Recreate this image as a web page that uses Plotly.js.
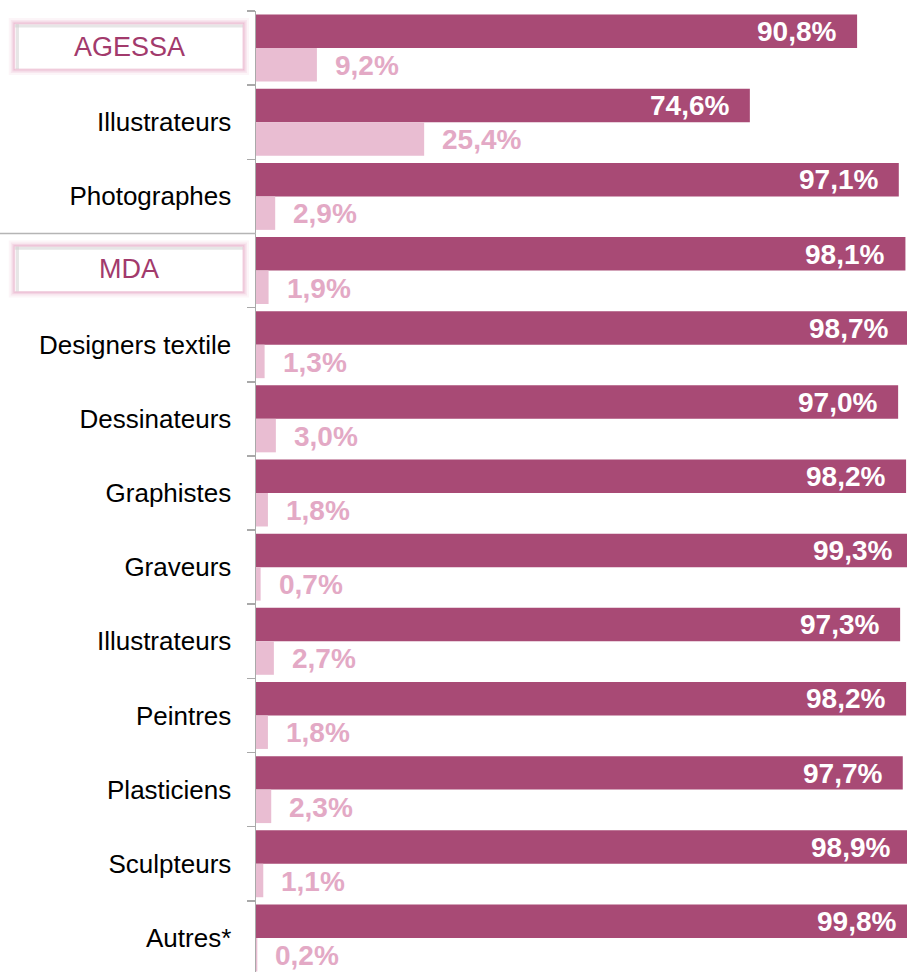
<!DOCTYPE html>
<html>
<head>
<meta charset="utf-8">
<script src="https://cdn.plot.ly/plotly-3.0.1.min.js"></script>
<style>
html,body{margin:0;padding:0;overflow:hidden;background:#fff;}
#chart{width:918px;height:975px;}
</style>
</head>
<body>
<div id="chart"></div>
<script>
// ---- data ----
const categories = ["AGESSA","Illustrateurs","Photographes","MDA","Designers textile","Dessinateurs","Graphistes","Graveurs","Illustrateurs","Peintres","Plasticiens","Sculpteurs","Autres*"];
const darkValues = [90.8,74.6,97.1,98.1,98.7,97.0,98.2,99.3,97.3,98.2,97.7,98.9,99.8];
const lightValues = [9.2,25.4,2.9,1.9,1.3,3.0,1.8,0.7,2.7,1.8,2.3,1.1,0.2];
const headerRows = ["AGESSA","MDA"];
const separatorAfter = "Photographes";

// ---- styling ----
const darkColor = "#a84a75";
const lightColor = "#e9bdd2";
const lightText = "#e3a9c5";
const headerText = "#a23a6c";
const axisGray = "#a9a9a9";
const FONT = "'Liberation Sans', Arial, sans-serif";

const idx = categories.map((c,i)=>i);
const fmt = v => v.toFixed(1).replace('.', ',') + '%';

const traces = [
  {type:'bar', orientation:'h', x: darkValues, y: idx, marker:{color:darkColor}, hoverinfo:'skip', name:'a'},
  {type:'bar', orientation:'h', x: lightValues, y: idx, marker:{color:lightColor}, hoverinfo:'skip', name:'b'}
];

const half = 0.2225;
const annotations = [];
categories.forEach((c,i)=>{
  annotations.push({x: darkValues[i], y: i - half, xref:'x', yref:'y', text: fmt(darkValues[i]),
    showarrow:false, xanchor:'right', xshift:-19, yshift:0, font:{family:FONT, size:28, color:'#ffffff', weight:'bold'}});
  annotations.push({x: lightValues[i], y: i + half, xref:'x', yref:'y', text: fmt(lightValues[i]),
    showarrow:false, xanchor:'left', xshift:16, yshift:-1, font:{family:FONT, size:28, color:lightText, weight:'bold'}});
});

// header boxes
const L = 256, W = 661.5;
const px2paper = p => (p - L) / W;
const shapes = [];
categories.forEach((c,i)=>{
  if (!headerRows.includes(c)) return;
  const x0 = px2paper(15), x1 = px2paper(243);
  const y0 = i - 0.324, y1 = i + 0.283;
  [[12,0.10],[8,0.16],[5,0.25],[2.5,0.4]].forEach(([w,o])=>{
    shapes.push({type:'rect', xref:'paper', yref:'y', x0, x1, y0, y1, line:{color:'#e6a3c3', width:w}, opacity:o, fillcolor:'rgba(0,0,0,0)'});
  });
  shapes.push({type:'rect', xref:'paper', yref:'y', x0, x1, y0, y1, line:{color:'#f2d3e1', width:1}, fillcolor:'#ffffff'});
  // inner shadow (top/left)
  shapes.push({type:'line', xref:'paper', yref:'y', x0: x0, x1: x1, y0: y0+0.025, y1: y0+0.025, line:{color:'#cfcfcf', width:3}, opacity:0.5});
  shapes.push({type:'line', xref:'paper', yref:'y', x0: x0+0.004, x1: x0+0.004, y0: y0, y1: y1, line:{color:'#cfcfcf', width:3}, opacity:0.5});
  annotations.push({x: px2paper(129.5), y: i - 0.02, xref:'paper', yref:'y', text: c, showarrow:false,
    xanchor:'center', font:{family:FONT, size:27, color:headerText}});
});
const sepIdx = categories.indexOf(separatorAfter);
shapes.push({type:'line', xref:'paper', yref:'y', x0: px2paper(0), x1: 0, y0: sepIdx + 0.5, y1: sepIdx + 0.5, line:{color:'#b5b5b5', width:1.5}});

const boundaries = [];
for (let i = 0; i <= categories.length; i++) boundaries.push(i - 0.5);

const layout = {
  width: 918, height: 975,
  margin: {l: 256, r: 0, t: 11, b: 0, pad: 0},
  paper_bgcolor: '#ffffff', plot_bgcolor: '#ffffff',
  barmode: 'group', bargap: 0.097, bargroupgap: 0,
  showlegend: false,
  font: {family: FONT},
  xaxis: {range: [0, 100], visible: false, fixedrange: true},
  yaxis: {
    range: [categories.length - 0.5, -0.5],
    tickmode: 'array', tickvals: idx,
    ticktext: categories.map(c => headerRows.includes(c) ? '' : c),
    ticks: '', showgrid: false, zeroline: false,
    showline: true, linecolor: axisGray, linewidth: 1.5,
    tickfont: {family: FONT, size: 26, color: '#000000'},
    ticklabelstandoff: 18,
    minor: {tickmode: 'array', tickvals: boundaries, ticks: 'outside', ticklen: 8, tickcolor: axisGray, tickwidth: 1.5, showgrid: false},
    fixedrange: true
  },
  shapes: shapes,
  annotations: annotations
};

Plotly.newPlot('chart', traces, layout, {staticPlot: true, displayModeBar: false});
</script>
</body>
</html>
